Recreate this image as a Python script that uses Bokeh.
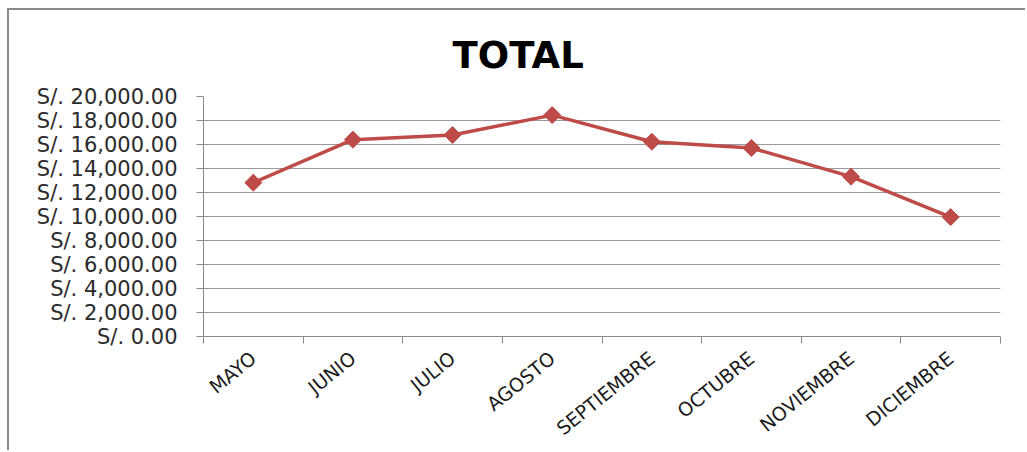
import math
from bokeh.plotting import figure
from bokeh.models import Range1d, FixedTicker
from bokeh.embed import file_html
from bokeh.resources import INLINE

title_text = "TOTAL"
months = ["MAYO", "JUNIO", "JULIO", "AGOSTO", "SEPTIEMBRE", "OCTUBRE", "NOVIEMBRE", "DICIEMBRE"]
total = [12820, 16400, 16790, 18450, 16230, 15710, 13320, 9950]
y_ticks = [0, 2000, 4000, 6000, 8000, 10000, 12000, 14000, 16000, 18000, 20000]
y_labels = ["S/. 0.00", "S/. 2,000.00", "S/. 4,000.00", "S/. 6,000.00", "S/. 8,000.00",
            "S/. 10,000.00", "S/. 12,000.00", "S/. 14,000.00", "S/. 16,000.00",
            "S/. 18,000.00", "S/. 20,000.00"]

xs = [i + 0.5 for i in range(len(months))]

p = figure(width=1018, height=442, output_backend="svg", toolbar_location=None,
           x_range=Range1d(0, len(months)), y_range=Range1d(0, 20000),
           min_border_left=194, min_border_right=27, min_border_top=86, min_border_bottom=116)
p.styles = {"margin-left": "7px", "margin-top": "8px",
            "border-left": "2px solid #8a8a8a", "border-top": "2px solid #8a8a8a"}
p.outline_line_color = None
p.background_fill_color = "white"
p.border_fill_color = "white"

p.title.text = title_text
p.title.text_font = "DejaVu Sans"
p.title.text_font_style = "bold"
p.title.text_font_size = "37px"
p.title.text_color = "#000000"
p.title.align = "left"
p.title.offset = 249
p.title.standoff = 40

# y axis
yt = FixedTicker(ticks=y_ticks)
p.yaxis.ticker = yt
p.yaxis.major_label_overrides = {t: l for t, l in zip(y_ticks, y_labels)}
p.yaxis.major_label_text_font = "DejaVu Sans"
p.yaxis.major_label_text_font_size = "21px"
p.yaxis.major_label_text_color = "#2b2b2b"
p.yaxis.axis_line_color = "#8a8a8a"
p.yaxis.major_tick_line_color = "#8a8a8a"
p.yaxis.major_tick_out = 7
p.yaxis.major_tick_in = 0
p.yaxis.minor_tick_line_color = None
p.yaxis.major_label_standoff = 19

# x axis
xt = FixedTicker(ticks=xs, minor_ticks=list(range(len(months) + 1)))
p.xaxis.ticker = xt
p.xaxis.major_label_overrides = {x: m for x, m in zip(xs, months)}
p.xaxis.major_label_orientation = 0.68
p.xaxis.major_label_text_font = "DejaVu Sans"
p.xaxis.major_label_text_font_size = "19px"
p.xaxis.major_label_text_color = "#1a1a1a"
p.xaxis.axis_line_color = "#8a8a8a"
p.xaxis.major_tick_line_color = None
p.xaxis.major_tick_out = 0
p.xaxis.major_tick_in = 0
p.xaxis.minor_tick_line_color = "#8a8a8a"
p.xaxis.minor_tick_out = 7
p.xaxis.minor_tick_in = 0
p.xaxis.major_label_standoff = 12

p.xgrid.visible = False
p.ygrid.ticker = yt
p.ygrid.grid_line_color = "#9a9a9a"
p.ygrid.grid_line_width = 1

color = "#be4b48"
p.line(xs, total, line_color=color, line_width=3.5)
p.scatter(xs, total, marker="square", angle=math.pi / 4, size=12, fill_color=color, line_color=color)

open("out.html", "w").write(file_html(p, INLINE))
